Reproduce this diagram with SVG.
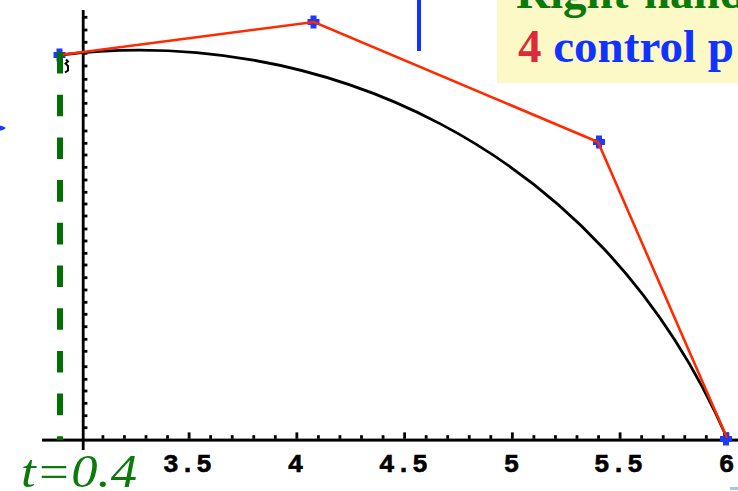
<svg xmlns="http://www.w3.org/2000/svg" xmlns:xlink="http://www.w3.org/1999/xlink" width="738" height="491" viewBox="0 0 738 491">
<style>
.tk{fill:#000}
.lbl{font-family:"Liberation Mono",monospace;font-weight:bold;font-size:26px;fill:#000;text-anchor:middle;letter-spacing:1px;stroke:#000;stroke-width:0.6}
.bx{font-family:"Liberation Serif","Times New Roman",serif;font-weight:bold;font-size:47px}
</style>
<defs>
<path id="mk" d="M-3,-6.5 H3 V-3 H6 V3 H3 V6.5 H-3 V3 H-6 V-3 H-3 Z" fill="#1a3cff"/>
</defs>
<rect width="738" height="491" fill="#fff"/>
<g id="callout">
<rect x="497" y="0" width="241" height="83" fill="#fcf9c6"/>
<text class="bx" x="516" y="7.5" fill="#0a7a0a">Right-hand</text>
<text class="bx" x="518" y="61.5"><tspan fill="#dd2a3a">4</tspan><tspan fill="#1133ff"> control p</tspan></text>
</g>
<rect id="blue-bar" x="417" y="0" width="4" height="51" fill="#1133ff"/>
<path id="blue-tip" d="M0,125.5 L4,126.8 L5.8,128 L4,129.4 L0,130.7 Z" fill="#1a3cff"/>
<g id="axes">
<rect x="81.8" y="10" width="2.8" height="440"/>
<rect x="42" y="438.6" width="696" height="3"/>
<g class="tk">
<rect x="84" y="15.9" width="3.4" height="2.8"/><rect x="84" y="28.6" width="3.4" height="2.8"/><rect x="84" y="40.9" width="3.4" height="2.8"/><rect x="84" y="51.9" width="3.4" height="2.8"/><rect x="84" y="64.6" width="3.4" height="2.8"/><rect x="84" y="77.9" width="3.4" height="2.8"/><rect x="84" y="89.6" width="3.4" height="2.8"/><rect x="84" y="101.9" width="3.4" height="2.8"/><rect x="84" y="113.9" width="3.4" height="2.8"/><rect x="84" y="129.6" width="3.4" height="2.8"/><rect x="84" y="141.9" width="3.4" height="2.8"/><rect x="84" y="153.6" width="3.4" height="2.8"/><rect x="84" y="165.9" width="3.4" height="2.8"/><rect x="84" y="178.6" width="3.4" height="2.8"/><rect x="84" y="190.9" width="3.4" height="2.8"/><rect x="84" y="202.6" width="3.4" height="2.8"/><rect x="84" y="214.6" width="3.4" height="2.8"/><rect x="84" y="227.6" width="3.4" height="2.8"/><rect x="84" y="239.6" width="3.4" height="2.8"/><rect x="84" y="251.9" width="3.4" height="2.8"/><rect x="84" y="263.6" width="3.4" height="2.8"/><rect x="84" y="276.3" width="3.4" height="2.8"/><rect x="84" y="288.6" width="3.4" height="2.8"/><rect x="84" y="300.9" width="3.4" height="2.8"/><rect x="84" y="312.9" width="3.4" height="2.8"/><rect x="84" y="325.3" width="3.4" height="2.8"/><rect x="84" y="337.9" width="3.4" height="2.8"/><rect x="84" y="349.9" width="3.4" height="2.8"/><rect x="84" y="365.3" width="3.4" height="2.8"/><rect x="84" y="377.9" width="3.4" height="2.8"/><rect x="84" y="389.6" width="3.4" height="2.8"/><rect x="84" y="401.9" width="3.4" height="2.8"/><rect x="84" y="414.3" width="3.4" height="2.8"/><rect x="84" y="426.3" width="3.4" height="2.8"/>
</g>
<g class="tk">
<rect x="101.5" y="435.2" width="2.8" height="3.6"/><rect x="123.05" y="435.2" width="2.8" height="3.6"/><rect x="144.6" y="435.2" width="2.8" height="3.6"/><rect x="166.15" y="435.2" width="2.8" height="3.6"/><rect x="187.7" y="432.4" width="2.8" height="6.4"/>
<rect x="209.25" y="435.2" width="2.8" height="3.6"/><rect x="230.8" y="435.2" width="2.8" height="3.6"/><rect x="252.35" y="435.2" width="2.8" height="3.6"/><rect x="273.9" y="435.2" width="2.8" height="3.6"/><rect x="295.45" y="432.4" width="2.8" height="6.4"/>
<rect x="317" y="435.2" width="2.8" height="3.6"/><rect x="338.55" y="435.2" width="2.8" height="3.6"/><rect x="360.1" y="435.2" width="2.8" height="3.6"/><rect x="381.65" y="435.2" width="2.8" height="3.6"/><rect x="403.2" y="432.4" width="2.8" height="6.4"/>
<rect x="424.75" y="435.2" width="2.8" height="3.6"/><rect x="446.3" y="435.2" width="2.8" height="3.6"/><rect x="467.85" y="435.2" width="2.8" height="3.6"/><rect x="489.4" y="435.2" width="2.8" height="3.6"/><rect x="510.95" y="432.4" width="2.8" height="6.4"/>
<rect x="532.5" y="435.2" width="2.8" height="3.6"/><rect x="554.05" y="435.2" width="2.8" height="3.6"/><rect x="575.6" y="435.2" width="2.8" height="3.6"/><rect x="597.15" y="435.2" width="2.8" height="3.6"/><rect x="618.7" y="432.4" width="2.8" height="6.4"/>
<rect x="640.25" y="435.2" width="2.8" height="3.6"/><rect x="661.8" y="435.2" width="2.8" height="3.6"/><rect x="683.35" y="435.2" width="2.8" height="3.6"/><rect x="704.9" y="435.2" width="2.8" height="3.6"/><rect x="726.45" y="432.4" width="2.8" height="6.4"/>
</g>
<g id="tick-labels">
<text class="lbl" x="188" y="472">3.5</text>
<text class="lbl" x="296" y="472">4</text>
<text class="lbl" x="404" y="472">4.5</text>
<text class="lbl" x="512" y="472">5</text>
<text class="lbl" x="619" y="472">5.5</text>
<text class="lbl" x="727" y="472">6</text>
</g>
</g>
<g id="markers">
<use xlink:href="#mk" x="59.5" y="55"/>
<use xlink:href="#mk" x="313.5" y="22"/>
<use xlink:href="#mk" x="599" y="142"/>
<use xlink:href="#mk" x="726" y="439"/>
</g>
<g id="curve">
<path d="M60,55 C314,24 598,142 727,438" fill="none" stroke="#000" stroke-width="2.8"/>
<path d="M66,59.5 L68,61.5 L65.5,63.5 L68,66 L68,70.5 L65,72.5" fill="none" stroke="#000" stroke-width="2"/>
</g>
<g id="connectors">
<polyline points="60,55 314,22 598,142 727,438" fill="none" stroke="#ff2a00" stroke-width="2.6"/>
</g>
<line id="t-line" x1="60" y1="52" x2="60" y2="440" stroke="#007000" stroke-width="6" stroke-dasharray="21.6 21.1"/>
<text id="t-label" x="21" y="487" textLength="116" lengthAdjust="spacingAndGlyphs" font-family="'Liberation Serif','Times New Roman',serif" font-style="italic" font-size="46" fill="#0b7a0b">t=0.4</text>
<rect x="730" y="487" width="8" height="3" fill="#a8c4f0"/>
</svg>
